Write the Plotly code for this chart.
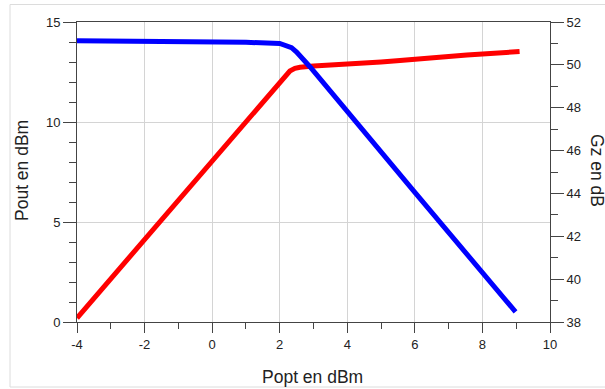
import plotly.graph_objects as go

# Data
popt_pout = [-4, -2, 0, 1, 2, 2.3, 2.45, 2.6, 3, 4, 5, 5.56, 6, 7, 7.54, 8, 9.1]
pout = [0.2, 4.15, 8.1, 10.05, 12.0, 12.55, 12.68, 12.74, 12.8, 12.88, 13.0, 13.07, 13.15, 13.27, 13.35, 13.4, 13.52]

popt_gz = [-4, -2, 0, 1, 2, 2.25, 2.35, 2.5, 2.9, 6, 8.98]
gz = [51.13, 51.12, 51.08, 51.05, 51.0, 50.9, 50.8, 50.6, 49.9, 44.05, 38.47]

x_tickvals = [-4, -2, 0, 2, 4, 6, 8, 10]
x_ticktext = ["-4", "-2", "0", "2", "4", "6", "8", "10"]

x_title = "Popt en dBm"
y_title = "Pout en dBm"
y2_title = "Gz en dB"

FONT = "Liberation Sans, Arial, sans-serif"
AX = "#444444"
GRID = "#d4d4d4"

fig = go.Figure()
fig.add_trace(go.Scatter(x=popt_pout, y=pout, mode="lines",
                         line=dict(color="#ff0000", width=5), yaxis="y"))
fig.add_trace(go.Scatter(x=popt_gz, y=gz, mode="lines",
                         line=dict(color="#0000ff", width=5), yaxis="y2"))

fig.update_layout(
    width=605, height=389,
    margin=dict(l=77, r=55, t=22, b=67),
    paper_bgcolor="white", plot_bgcolor="white",
    showlegend=False,
    font=dict(family=FONT, size=13, color="#222222"),
    xaxis=dict(range=[-4, 10], tickvals=x_tickvals, ticktext=x_ticktext,
               showgrid=True, gridcolor=GRID, gridwidth=1,
               zeroline=False, showline=True, linecolor=AX, linewidth=1, mirror=True,
               ticks="outside", ticklen=10, tickcolor=AX,
               minor=dict(dtick=1, tick0=-4, ticks="outside", ticklen=6, tickcolor=AX, showgrid=False)),
    yaxis=dict(range=[0, 15], dtick=5, showgrid=True, gridcolor=GRID, gridwidth=1,
               zeroline=False, showline=True, linecolor=AX, linewidth=1,
               ticks="outside", ticklen=13, tickcolor=AX,
               minor=dict(dtick=1, ticks="outside", ticklen=7, tickcolor=AX, showgrid=False)),
    yaxis2=dict(range=[38, 52], dtick=2, overlaying="y", side="right", showgrid=False,
                zeroline=False, showline=True, linecolor=AX, linewidth=1,
                ticks="outside", ticklen=13, tickcolor=AX,
                minor=dict(dtick=1, ticks="outside", ticklen=7, tickcolor=AX, showgrid=False)),
    shapes=[dict(type="rect", xref="paper", yref="paper",
                 x0=(10 - 77) / 473, x1=(620 - 77) / 473,
                 y0=(322 - 387) / 300, y1=(322 - 4.5) / 300,
                 line=dict(color="#dcdcdc", width=1), fillcolor="rgba(0,0,0,0)", layer="below")],
    annotations=[
        dict(text=x_title, xref="paper", yref="paper", x=(312 - 77) / 473, y=(322 - 377) / 300,
             xanchor="center", yanchor="middle", showarrow=False, font=dict(size=17.5)),
        dict(text=y_title, xref="paper", yref="paper", x=(22 - 77) / 473, y=(322 - 171) / 300,
             xanchor="center", yanchor="middle", textangle=-90, showarrow=False, font=dict(size=17.5)),
        dict(text=y2_title, xref="paper", yref="paper", x=(597 - 77) / 473, y=(322 - 170) / 300,
             xanchor="center", yanchor="middle", textangle=90, showarrow=False, font=dict(size=17.5)),
    ],
)

fig.write_html("out.html", config={"displayModeBar": False},
               post_script="document.body.style.margin='0';document.body.style.overflow='hidden';")
